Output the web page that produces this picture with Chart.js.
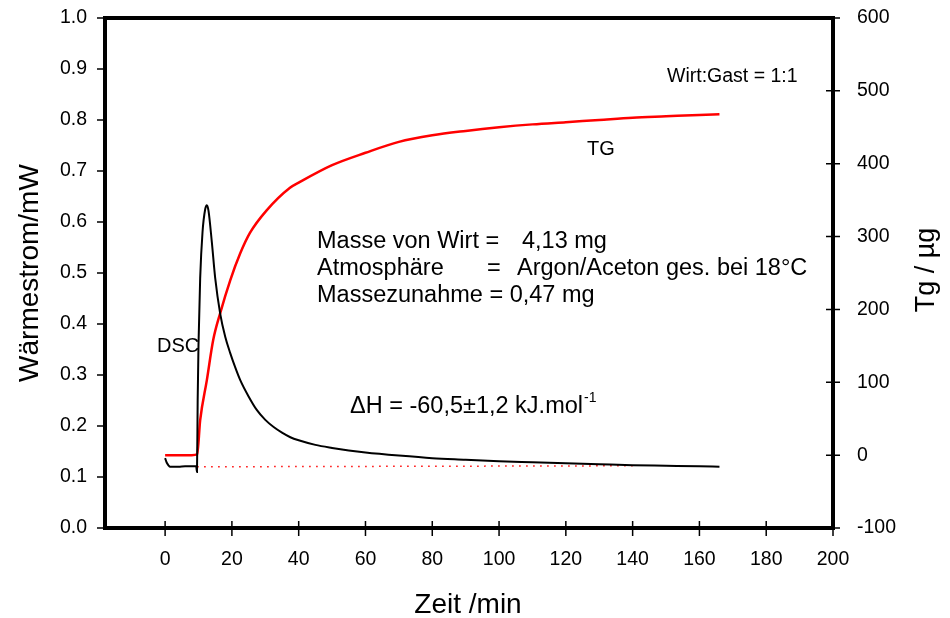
<!DOCTYPE html>
<html lang="de">
<head>
  <meta charset="UTF-8" />
  <title>DSC / TG</title>
  <script src="https://cdn.jsdelivr.net/npm/chart.js"></script>
  <style>
    html, body { margin: 0; padding: 0; background: #fff; }
    #wrap { position: relative; width: 950px; height: 618px; }
  </style>
</head>
<body>
  <div id="wrap"><canvas id="chart"></canvas></div>

  <script>
    // axis ticks
    const xTicks = [0, 20, 40, 60, 80, 100, 120, 140, 160, 180, 200];
    const yTicks = [0, 0.1, 0.2, 0.3, 0.4, 0.5, 0.6, 0.7, 0.8, 0.9, 1.0];
    const y2Ticks = [-100, 0, 100, 200, 300, 400, 500, 600];

    // DSC curve (Wärmestrom, mW)
    const dscTime = [0, 0.5, 1, 1.5, 2, 4, 6, 8, 9.3, 9.55, 9.75, 10.0, 10.5, 11.2, 12.0, 12.5, 13.0, 14.0, 15.0, 16.5, 18, 19.5, 21, 22.5, 25, 27.5, 30, 32.5, 35, 37.5, 40, 45, 50, 55, 60, 70, 80, 90, 100, 110, 120, 130, 140, 150, 160, 166];
    const dscValues = [0.137, 0.128, 0.123, 0.120, 0.120, 0.120, 0.121, 0.121, 0.121, 0.110, 0.250, 0.360, 0.490, 0.580, 0.625, 0.633, 0.622, 0.560, 0.490, 0.420, 0.375, 0.343, 0.315, 0.290, 0.258, 0.231, 0.212, 0.198, 0.187, 0.178, 0.172, 0.163, 0.157, 0.152, 0.148, 0.142, 0.137, 0.134, 0.131, 0.129, 0.127, 0.125, 0.123, 0.122, 0.121, 0.120];

    // TG curve (µg)
    const tgTime = [0, 4, 8, 9.6, 10.5, 12.5, 14.4, 16.5, 19.5, 22.5, 25.4, 30.4, 37.4, 40, 50, 60, 70, 80, 90, 100, 110, 120, 130, 140, 150, 160, 166];
    const tgValues = [0, 0, 0, 1, 48, 103, 158, 195, 240, 277, 305, 336, 367, 374, 398, 415, 430, 439, 445, 450, 454, 457, 460, 463, 465, 467, 468];

    // dotted DSC baseline
    const baseTime = [9.6, 140];
    const baseValues = [0.12, 0.122];

    const pts = (xs, ys) => xs.map((x, i) => ({ x: x, y: ys[i] }));

    const FONT = "'Liberation Sans', Arial, sans-serif";

    const framePlugin = {
      id: 'frame',
      afterDatasetsDraw(chart) {
        const ctx = chart.ctx;
        const a = chart.chartArea;
        const sx = chart.scales.x, sy = chart.scales.y, sy2 = chart.scales.y2;
        ctx.save();
        ctx.strokeStyle = '#000';
        ctx.lineWidth = 1.5;
        ctx.beginPath();
        yTicks.forEach(v => {
          const p = sy.getPixelForValue(v);
          ctx.moveTo(a.left - 8, p); ctx.lineTo(a.left, p);
        });
        y2Ticks.forEach(v => {
          const p = sy2.getPixelForValue(v);
          ctx.moveTo(a.right - 7, p); ctx.lineTo(a.right + 7, p);
        });
        xTicks.forEach(v => {
          const p = sx.getPixelForValue(v);
          ctx.moveTo(p, a.bottom - 7); ctx.lineTo(p, a.bottom + 8);
        });
        ctx.stroke();
        ctx.lineWidth = 4;
        ctx.strokeRect(a.left, a.top, a.right - a.left, a.bottom - a.top);
        ctx.restore();
      }
    };

    const textPlugin = {
      id: 'texts',
      afterDraw(chart) {
        const ctx = chart.ctx;
        ctx.save();
        ctx.fillStyle = '#000';
        ctx.textBaseline = 'alphabetic';
        ctx.textAlign = 'left';

        ctx.font = '19.5px ' + FONT;
        ctx.fillText('Wirt:Gast = 1:1', 667, 82);

        ctx.font = '20px ' + FONT;
        ctx.fillText('TG', 587, 155);
        ctx.fillText('DSC', 157, 352);

        ctx.font = '23.5px ' + FONT;
        ctx.fillText('Masse von Wirt =', 317, 248);
        ctx.fillText('4,13 mg', 522, 248);
        ctx.fillText('Atmosphäre', 317, 275);
        ctx.fillText('=', 487, 275);
        ctx.fillText('Argon/Aceton ges. bei 18°C', 517, 275);
        ctx.fillText('Massezunahme = 0,47 mg', 317, 302);

        const dh = 'ΔH = -60,5±1,2 kJ.mol';
        ctx.fillText(dh, 350, 413);
        const w = ctx.measureText(dh).width;
        ctx.font = '14px ' + FONT;
        ctx.fillText('-1', 350 + w + 1, 402);

        // axis titles
        ctx.font = '28px ' + FONT;
        ctx.textAlign = 'center';
        ctx.fillText('Zeit /min', 468, 613);

        ctx.save();
        ctx.translate(38, 273);
        ctx.rotate(-Math.PI / 2);
        ctx.fillText('Wärmestrom/mW', 0, 0);
        ctx.restore();

        ctx.font = '27px ' + FONT;
        ctx.save();
        ctx.translate(934, 270);
        ctx.rotate(-Math.PI / 2);
        ctx.fillText('Tg / µg', 0, 0);
        ctx.restore();

        ctx.restore();
      }
    };

    const tickFont = { family: FONT, size: 19.5 };

    new Chart(document.getElementById('chart'), {
      type: 'line',
      data: {
        datasets: [
          {
            label: 'DSC',
            data: pts(dscTime, dscValues),
            yAxisID: 'y',
            borderColor: '#000',
            borderWidth: 2,
            pointRadius: 0,
            cubicInterpolationMode: 'monotone',
            order: 1
          },
          {
            label: 'Basislinie',
            data: pts(baseTime, baseValues),
            yAxisID: 'y',
            borderColor: '#ff0000',
            borderWidth: 1.5,
            borderDash: [1.5, 5.5],
            pointRadius: 0,
            order: 3
          },
          {
            label: 'TG',
            data: pts(tgTime, tgValues),
            yAxisID: 'y2',
            borderColor: '#ff0000',
            borderWidth: 2.5,
            pointRadius: 0,
            cubicInterpolationMode: 'monotone',
            order: 2
          }
        ]
      },
      options: {
        responsive: true,
        maintainAspectRatio: false,
        animation: false,
        layout: { padding: { top: 18, left: 0, right: 0, bottom: 0 } },
        plugins: {
          legend: { display: false },
          tooltip: { enabled: false }
        },
        scales: {
          x: {
            type: 'linear',
            min: -18,
            max: 200,
            afterBuildTicks: s => { s.ticks = xTicks.map(v => ({ value: v })); },
            afterFit: s => { s.height = 90; s.paddingLeft = 0; s.paddingRight = 0; },
            grid: { display: false, drawTicks: false },
            border: { display: false },
            ticks: { font: tickFont, color: '#000', padding: 20, maxRotation: 0, autoSkip: false }
          },
          y: {
            type: 'linear',
            position: 'left',
            min: 0,
            max: 1,
            afterBuildTicks: s => { s.ticks = yTicks.map(v => ({ value: v })); },
            afterFit: s => { s.width = 105; s.paddingTop = 0; s.paddingBottom = 0; },
            grid: { display: false, drawTicks: false },
            border: { display: false },
            ticks: { font: tickFont, color: '#000', padding: 18, callback: v => v.toFixed(1) }
          },
          y2: {
            type: 'linear',
            position: 'right',
            min: -100,
            max: 600,
            afterBuildTicks: s => { s.ticks = y2Ticks.map(v => ({ value: v })); },
            afterFit: s => { s.width = 117; s.paddingTop = 0; s.paddingBottom = 0; },
            grid: { display: false, drawTicks: false },
            border: { display: false },
            ticks: { font: tickFont, color: '#000', padding: 24 }
          }
        }
      },
      plugins: [framePlugin, textPlugin]
    });
  </script>
</body>
</html>
